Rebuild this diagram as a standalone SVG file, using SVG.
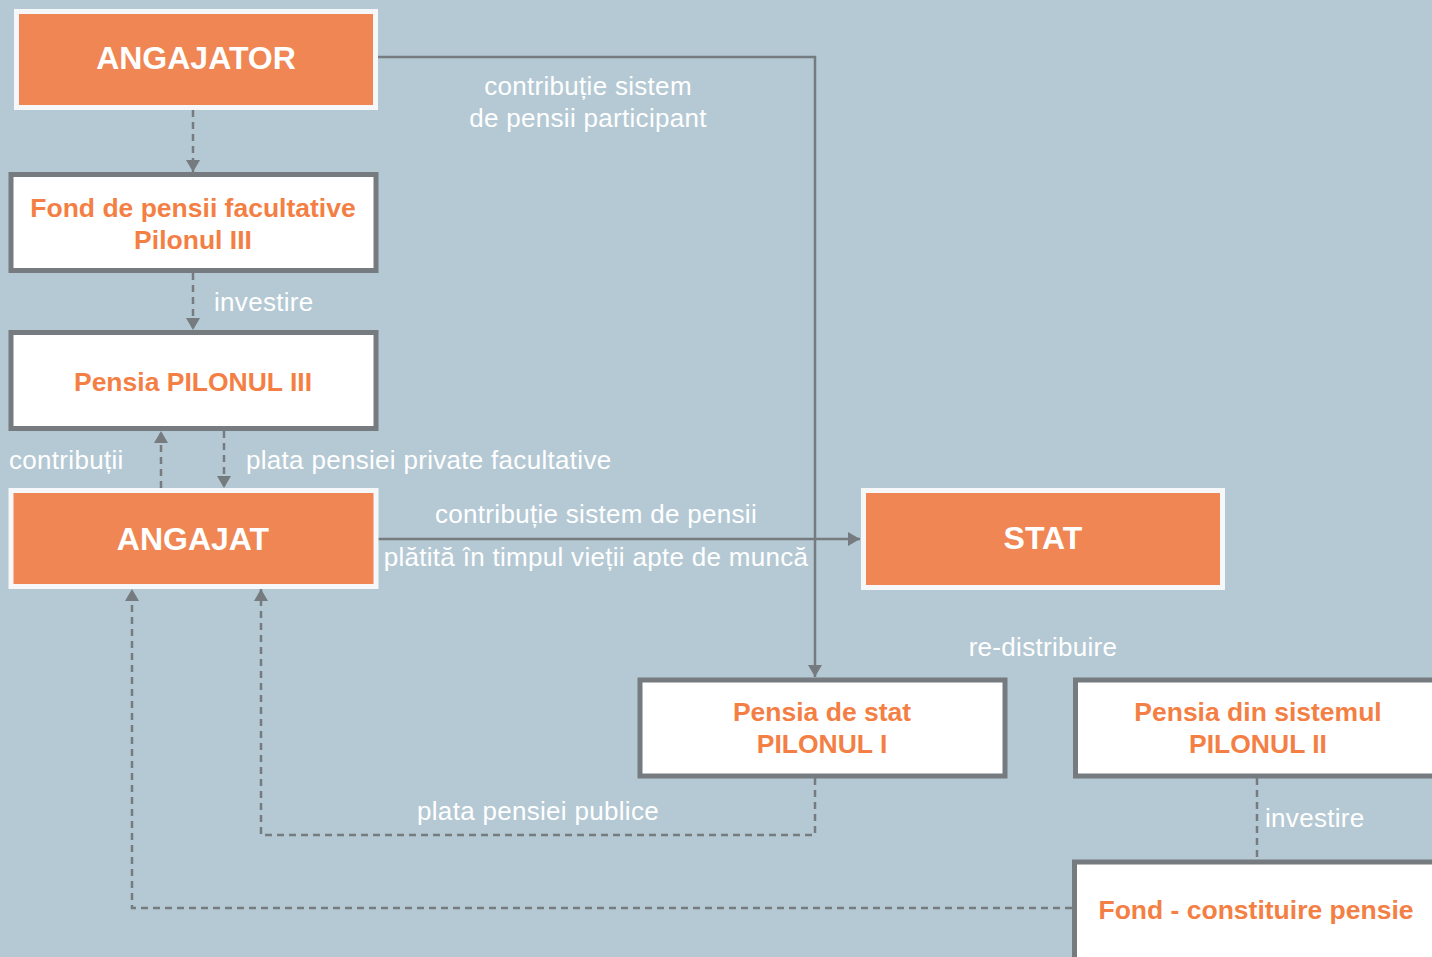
<svg xmlns="http://www.w3.org/2000/svg" width="1432" height="957" viewBox="0 0 1432 957">
<style>
.bg{fill:#b5c9d4}
.ob{fill:#ef8653;stroke:#f5f7f8;stroke-width:5}
.wb{fill:#ffffff;stroke:#757b7e;stroke-width:5}
.ot{font-family:"Liberation Sans",Arial,sans-serif;font-weight:bold;fill:#ffffff;font-size:32px;text-anchor:middle}
.wt{font-family:"Liberation Sans",Arial,sans-serif;font-weight:bold;fill:#f47f45;font-size:26.5px;text-anchor:middle}
.lb{font-family:"Liberation Sans",Arial,sans-serif;fill:#ffffff;font-size:26px;letter-spacing:0.3px}
.c{fill:none;stroke:#757b7e;stroke-width:2.5}
.d{stroke-dasharray:7 5}
</style>
<defs>
<marker id="ah" viewBox="0 0 12 14" refX="12" refY="7" markerWidth="12" markerHeight="14" markerUnits="userSpaceOnUse" orient="auto">
<path d="M0,0 L12,7 L0,14 Z" fill="#757b7e"/>
</marker>
</defs>
<rect class="bg" x="0" y="0" width="1432" height="957"/>
<g id="connectors">
<path class="c d" d="M193,110 V172" marker-end="url(#ah)"/>
<path class="c d" d="M193,273 V330" marker-end="url(#ah)"/>
<path class="c d" d="M161,488 V431" marker-end="url(#ah)"/>
<path class="c d" d="M224,431 V488" marker-end="url(#ah)"/>
<path class="c" d="M378,57 H815 V677" marker-end="url(#ah)"/>
<path class="c" d="M378,539 H860" marker-end="url(#ah)"/>
<path class="c d" d="M815,778 V835 H261 V589" marker-end="url(#ah)"/>
<path class="c d" d="M1072,908 H132 V589" marker-end="url(#ah)"/>
<path class="c d" d="M1257,778 V860"/>
<text class="lb" x="588" y="95" text-anchor="middle">contribuție sistem</text>
<text class="lb" x="588" y="127" text-anchor="middle">de pensii participant</text>
<text class="lb" x="214" y="311">investire</text>
<text class="lb" x="9" y="469">contribuții</text>
<text class="lb" x="246" y="469">plata pensiei private facultative</text>
<text class="lb" x="596" y="523" text-anchor="middle">contribuție sistem de pensii</text>
<text class="lb" x="596" y="566" text-anchor="middle">plătită în timpul vieții apte de muncă</text>
<text class="lb" x="1043" y="656" text-anchor="middle">re-distribuire</text>
<text class="lb" x="538" y="820" text-anchor="middle">plata pensiei publice</text>
<text class="lb" x="1265" y="827">investire</text>
</g>
<g id="angajator">
<rect class="ob" x="16.5" y="11.5" width="359" height="96"/>
<text class="ot" x="196" y="69">ANGAJATOR</text>
</g>
<g id="fond-pilon3">
<rect class="wb" x="11" y="174.5" width="365" height="96"/>
<text class="wt" x="193" y="217">Fond de pensii facultative</text>
<text class="wt" x="193" y="249">Pilonul III</text>
</g>
<g id="pensia-pilon3">
<rect class="wb" x="11" y="332.5" width="365" height="96"/>
<text class="wt" x="193" y="391">Pensia PILONUL III</text>
</g>
<g id="angajat">
<rect class="ob" x="11" y="490.5" width="365" height="96"/>
<text class="ot" x="193" y="550">ANGAJAT</text>
</g>
<g id="stat">
<rect class="ob" x="863.5" y="490.5" width="359" height="97"/>
<text class="ot" x="1043" y="549">STAT</text>
</g>
<g id="pensia-stat">
<rect class="wb" x="640" y="680" width="365" height="96"/>
<text class="wt" x="822" y="721">Pensia de stat</text>
<text class="wt" x="822" y="753">PILONUL I</text>
</g>
<g id="pensia-pilon2">
<rect class="wb" x="1075.5" y="680" width="365" height="96"/>
<text class="wt" x="1258" y="721">Pensia din sistemul</text>
<text class="wt" x="1258" y="753">PILONUL II</text>
</g>
<g id="fond-constituire">
<rect class="wb" x="1074.5" y="862" width="365" height="100"/>
<text class="wt" x="1256" y="919">Fond - constituire pensie</text>
</g>
</svg>
